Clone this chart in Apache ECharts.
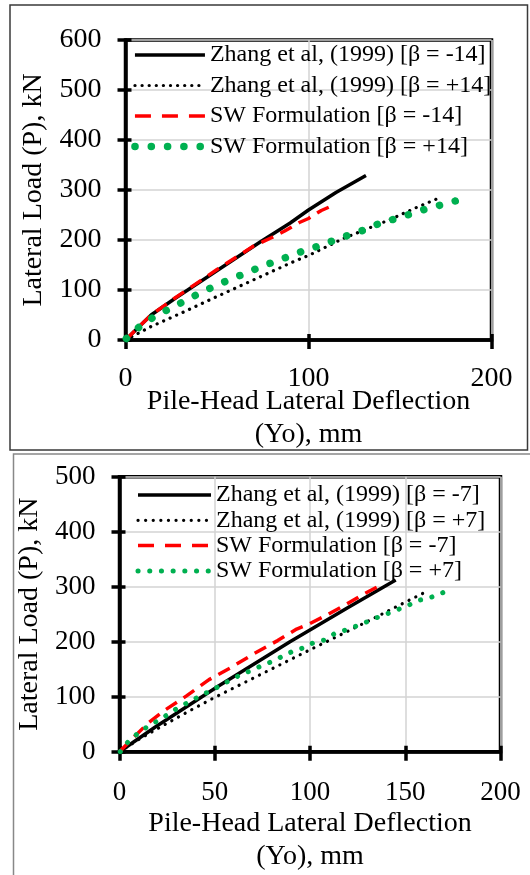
<!DOCTYPE html>
<html><head><meta charset="utf-8">
<script src="https://cdn.jsdelivr.net/npm/echarts@6/dist/echarts.min.js"></script>
<style>html,body{margin:0;padding:0;background:#fff}#c{width:530px;height:875px}</style>
</head><body><div id="c"></div><script>
// ---------- DATA: top panel (beta = ±14) ----------
const topNames = ['Zhang et al, (1999) [β = -14]', 'Zhang et al, (1999) [β = +14]', 'SW Formulation [β = -14]', 'SW Formulation [β = +14]'];
const topZhangNegX = [0, 5, 14, 27, 50.5, 74, 90, 100, 115, 131.4];
const topZhangNegP = [0, 18, 50, 83, 140, 197, 234, 260, 295, 329];
const topZhangPosX = [0, 14, 30, 50, 92, 100, 119, 144, 159, 172];
const topZhangPosP = [0, 27, 53, 87, 157, 169, 203, 240, 265, 285];
const topSWNegX = [0, 5, 14, 27, 50, 70, 80, 87, 95, 100, 107, 114.5];
const topSWNegP = [0, 18, 50, 84, 141, 188, 205, 218, 235, 243, 259, 271];
const topSWPosX = [0.5, 7.2, 15.0, 23.2, 31.8, 39.6, 48.2, 56.4, 64.6, 73.1, 81.5, 89.9, 98.5, 107.2, 115.8, 123.8, 132.0, 139.8, 148.2, 156.6, 164.9, 173.3, 182.1];
const topSWPosP = [3, 25, 45, 61, 77, 92, 107, 120, 132, 145, 157, 168, 180, 190, 202, 212, 222, 235, 243, 253, 263, 271, 280];
const topXTicks = { min: 0, max: 200, interval: 100 };
const topYTicks = { min: 0, max: 600, interval: 100 };

// ---------- DATA: bottom panel (beta = ±7) ----------
const botNames = ['Zhang et al, (1999) [β = -7]', 'Zhang et al, (1999) [β = +7]', 'SW Formulation [β = -7]', 'SW Formulation [β = +7]'];
const botZhangNegX = [0, 18.8, 52, 89.5, 120, 145];
const botZhangNegP = [0, 45, 119.5, 200, 262, 312];
const botZhangPosX = [0, 10, 19, 35, 49, 75, 90, 101, 111, 121, 132, 145.5, 157, 161];
const botZhangPosP = [0, 22, 40, 71, 97, 142, 168, 187, 204, 221, 240, 264, 284, 291];
const botSWNegX = [0, 8, 15, 24, 35, 47, 58, 70, 83, 93, 100, 108, 119, 129, 135];
const botSWNegP = [0, 28, 52, 76, 101, 131, 152, 177, 202, 223, 233, 247, 268, 288, 299];
const botSWPosX = [0.4, 4.5, 9.2, 14.4, 20.0, 25.5, 30.7, 36.3, 41.6, 46.8, 52.4, 57.6, 63.1, 68.7, 74.4, 80.1, 85.3, 90.6, 95.8, 101.7, 107.5, 112.6, 118.4, 124, 129.8, 135.3, 140.6, 145.8, 151.6, 156.8, 163, 168.2, 173.9];
const botSWPosP = [0, 18, 32, 45, 56, 68, 80, 90, 100, 109, 119, 129, 139, 147, 156, 164, 173, 182, 188, 198, 203, 214, 221, 228, 236, 244, 251, 258, 266, 275, 280, 287, 295];
const botXTicks = { min: 0, max: 200, interval: 50 };
const botYTicks = { min: 0, max: 500, interval: 100 };

const xTitle = 'Pile-Head Lateral Deflection\n(Yo), mm';
const yTitle = 'Lateral Load (P), kN';

// ---------- CHART ----------
const FONT = 'Liberation Serif';
const AX = { color: '#000', width: 3.5 };
const GRIDC = '#d3d3d3';
function pairs(xs, ys) { return xs.map((x, i) => [x, ys[i]]); }

function mainX(g, t, fs, margin, nameGap) {
  return { gridIndex: g, type: 'value', position: 'bottom', min: t.min, max: t.max, interval: t.interval,
    axisLine: { show: true, onZero: false, lineStyle: AX },
    axisTick: { show: true, length: 9, lineStyle: AX },
    axisLabel: { fontFamily: FONT, fontSize: fs, color: '#000', margin: margin },
    splitLine: { show: true, lineStyle: { color: GRIDC, width: 1.5 } },
    name: xTitle, nameLocation: 'middle', nameGap: nameGap, nameMoveOverlap: false,
    nameTextStyle: { fontFamily: FONT, fontSize: 28, color: '#000', lineHeight: 33 } };
}
function innerX(g, t) {
  return { gridIndex: g, type: 'value', position: 'bottom', min: t.min, max: t.max, interval: t.interval,
    axisLine: { show: false }, axisTick: { show: true, inside: true, length: 6, lineStyle: AX },
    axisLabel: { show: false }, splitLine: { show: false } };
}
function mainY(g, t, fs, nameGap) {
  return { gridIndex: g, type: 'value', position: 'left', min: t.min, max: t.max, interval: t.interval,
    axisLine: { show: true, onZero: false, lineStyle: AX },
    axisTick: { show: true, length: 8, lineStyle: AX },
    axisLabel: { fontFamily: FONT, fontSize: fs, color: '#000', margin: 24 },
    splitLine: { show: true, lineStyle: { color: GRIDC, width: 1.5 } },
    name: yTitle, nameLocation: 'middle', nameGap: nameGap,
    nameTextStyle: { fontFamily: FONT, fontSize: 28, color: '#000' } };
}
function innerY(g, t) {
  return { gridIndex: g, type: 'value', position: 'left', min: t.min, max: t.max, interval: t.interval,
    axisLine: { show: false }, axisTick: { show: true, inside: true, length: 6, lineStyle: AX },
    axisLabel: { show: false }, splitLine: { show: false } };
}
function ser(name, xi, data, ls) {
  return { name: name, type: 'line', xAxisIndex: xi, yAxisIndex: xi, data: data, symbol: 'none',
    smooth: false, lineStyle: ls, itemStyle: { color: ls.color }, z: 3 };
}
function legend(names, left, top, gap, w) {
  const items = names.map((n, i) => i === 2 ? { name: n, lineStyle: { type: [16, 11] } } : { name: n });
  return { data: items, orient: 'vertical', left: left, top: top, padding: 0, itemWidth: w, itemHeight: 14, itemGap: gap,
    selectedMode: false, itemStyle: { opacity: 0 },
    lineStyle: { width: 'inherit', cap: 'inherit', type: 'inherit' },
    textStyle: { fontFamily: FONT, fontSize: 24, color: '#000', lineHeight: 24 } };
}

const option = {
  animation: false,
  backgroundColor: '#fff',
  grid: [
    { left: 125.5, right: 38.5, top: 40, bottom: 535, show: true, borderColor: '#000', borderWidth: 3.5 },
    { left: 119.5, right: 29.5, top: 476.7, bottom: 123.3, show: true, borderColor: '#000', borderWidth: 3.5 }
  ],
  xAxis: [mainX(0, topXTicks, 28, 25, 45), innerX(0, topXTicks), mainX(1, botXTicks, 27, 28, 55), innerX(1, botXTicks)],
  yAxis: [mainY(0, topYTicks, 28, 78), innerY(0, topYTicks), mainY(1, botYTicks, 27, 66), innerY(1, botYTicks)],
  legend: [legend(topNames, 131.2, 43, 6.5, 70), legend(botNames, 135.5, 483, 1.3, 73)],
  series: [
    ser(topNames[0], 0, pairs(topZhangNegX, topZhangNegP), { color: '#000', width: 3.5 }),
    ser(topNames[1], 0, pairs(topZhangPosX, topZhangPosP), { color: '#000', width: 3.2, type: [0.1, 7], cap: 'round' }),
    ser(topNames[2], 0, pairs(topSWNegX, topSWNegP), { color: '#ff0000', width: 3.5, type: [13, 8] }),
    ser(topNames[3], 0, pairs(topSWPosX, topSWPosP), { color: '#00b050', width: 7.5, type: [0.1, 16.2], cap: 'round' }),
    ser(botNames[0], 2, pairs(botZhangNegX, botZhangNegP), { color: '#000', width: 3.5 }),
    ser(botNames[1], 2, pairs(botZhangPosX, botZhangPosP), { color: '#000', width: 3.2, type: [0.1, 7.5], cap: 'round' }),
    ser(botNames[2], 2, pairs(botSWNegX, botSWNegP), { color: '#ff0000', width: 3.5, type: [13, 8] }),
    ser(botNames[3], 2, pairs(botSWPosX, botSWPosP), { color: '#00b050', width: 5, type: [0.1, 11.6], cap: 'round' })
  ],
  graphic: [
    { type: 'rect', silent: true, shape: { x: 10, y: 5, width: 517.5, height: 445 }, style: { fill: 'none', stroke: '#3a3a3a', lineWidth: 1.5 } },
    { type: 'polyline', silent: true, shape: { points: [[13.5, 875], [13.5, 454], [530, 454]] }, style: { fill: 'none', stroke: '#888', lineWidth: 1.5 } }
  ]
};
const chart = echarts.init(document.getElementById('c'), null, { renderer: 'canvas' });
chart.setOption(option);
</script></body></html>
